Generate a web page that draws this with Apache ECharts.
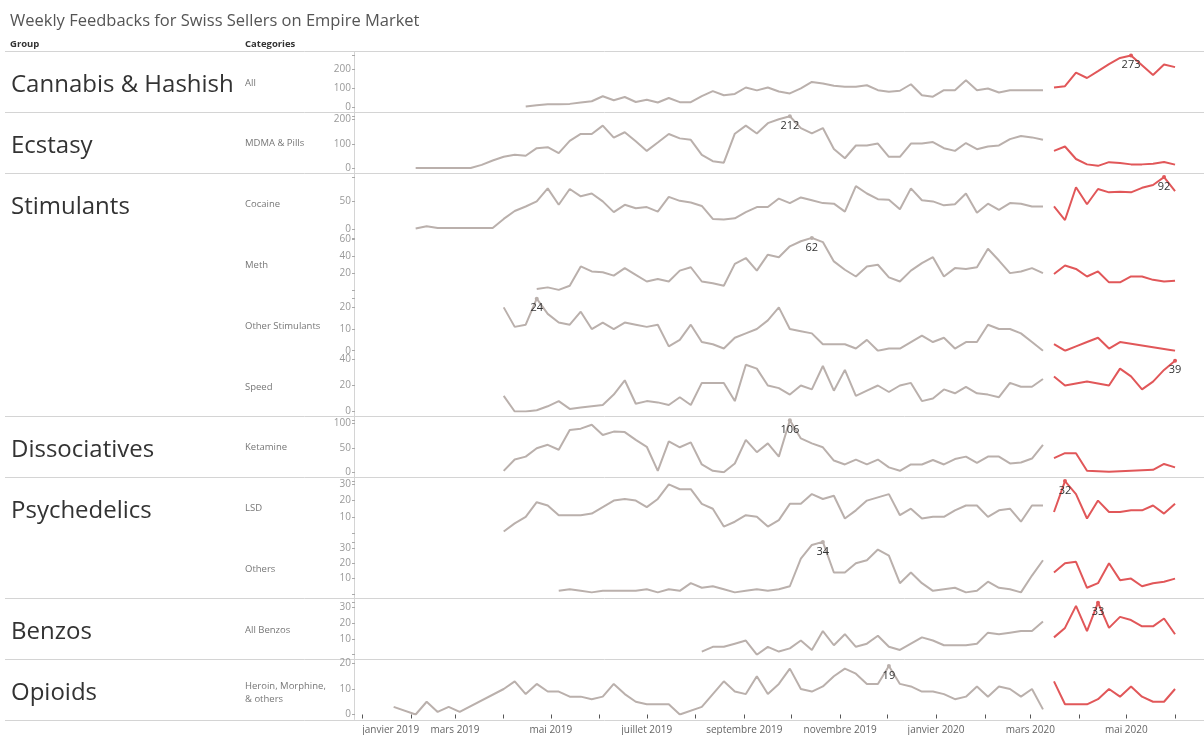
<!DOCTYPE html>
<html>
<head>
<meta charset="utf-8">
<script src="https://cdn.jsdelivr.net/npm/echarts@6/dist/echarts.min.js"></script>
<style>
  html, body { margin: 0; padding: 0; background: #fff; }
  #chart { width: 1204px; height: 735px; }
</style>
</head>
<body>
<div id="chart"></div>
<script>
// weekly points: gray = 60 weeks from 21 Jan 2019, red = 12 weeks from 16 Mar 2020
const grayStart = [2019, 0, 21]
const redStart = [2020, 2, 16]

const groups = ['Cannabis & Hashish', 'Ecstasy', 'Stimulants', 'Dissociatives', 'Psychedelics', 'Benzos', 'Opioids']
const groupFirstRow = [0, 1, 2, 6, 7, 9, 10]
const categories = ['All', 'MDMA & Pills', 'Cocaine', 'Meth', 'Other Stimulants', 'Speed', 'Ketamine', 'LSD', 'Others', 'All Benzos', 'Heroin, Morphine,\n& others']

const xTickLabels = ['janvier 2019', 'mars 2019', 'mai 2019', 'juillet 2019', 'septembre 2019', 'novembre 2019', 'janvier 2020', 'mars 2020', 'mai 2020']

const cannabisGray = [null, null, null, null, null, null, null, null, null, null, null, null,
  5, 12, 17, 17, 19, 26, 33, 59, 38, 55, 29, 41, 26, 50, 28, 28, 60, 86, 64, 71,
  105, 90, 105, 84, 74, 100, 134, 126, 114, 109, 109, 117, 91, 83, 88, 122, 64, 57, 91, 91,
  143, 91, 100, 79, 91, 91, 91, 91]
const cannabisRed = [105, 112, 183, 155, 191, 228, 260, 273, null, 171, 226, 212]

const ecstasyGray = [null, null, 1, 1, 1, 1, 1, 1,
  14, 32, 47, 55, 51, 82, 86, 62, 112, 140, 140, 174, 125, 147, 110, 71, 105, 140, 122, 116,
  55, 29, 23, 141, 174, 142, 184, 200, 212, 164, 142, 164, 79, 41,
  93, 93, 101, 47, 47, 101, 101, 107, 82, 71, 103, 78, 89, 93, 119, 132, 126, 116]
const ecstasyRed = [71, 89, 38, 16, 10, 25, 22, 16, 16, 19, 26, 15]

const cocaineGray = [null, null, 1, 5, 2, 2, 2, 2, 2, 2,
  18, 32, 40, 49, 72, 43, 71, 58, 63, 49, 30, 43, 37, 39, 31, 57, 50, 47, 41, 18,
  17, 19, 30, 39, 39, 54, 46, 56, 51, 46, 45, 31,
  76, 63, 53, 52, 35, 72, 51, 49, 42, 44, 63, 29, 45, 34, 46, 45, 40, 40]
const cocaineRed = [40, 16, 74, 44, 71, 65, 66, 65, 73, 78, 92, 67]

const methGray = [null, null, null, null, null, null, null, null, null, null, null, null, null,
  1, 3, 0, 5, 28, 22, 21, 17, 26, 18, 10, 13, 10, 23, 27, 10, 8, 5, 31,
  38, 23, 42, 39, 52, 58, 62, 57, 34, 24, 16, 28, 30, 15, 10, 23, 32, 39, 16, 26,
  25, 27, 49, 35, 20, 22, 26, 20]
const methRed = [19, 29, 25, 16, 22, 9, 9, 16, 16, 12, 10, 11]

const otherStimGray = [null, null, null, null, null, null, null, null, null, null,
  20, 11, 12, 24, 17, 13, 12, 18, 10, 13, 10, 13, 12, 11, 12, 2, 5, 12, 4, 3,
  1, 6, 8, 10, 14, 20, 10, 9, 8, 3, 3, 3, 1, 5, 0, 1, 1, 4, 7, 4, 6, 1,
  4, 4, 12, 10, 10, 8, 4, 0]
const otherStimRed = [3, 0, 2, 4, 6, 1, 4, null, null, null, null, 0]

const speedGray = [null, null, null, null, null, null, null, null, null, null,
  12, 0, 0, 1, 4, 8, 2, 3, 4, 5, 13, 24, 6, 8, 7, 5, 11, 5, 22, 22,
  22, 8, 36, 33, 20, 18, 13, 20, 17, 35, 16, 32, 12, 16, 20, 15, 20, 22, 8, 10, 17, 14,
  19, 14, 13, 11, 22, 19, 19, 25]
const speedRed = [27, 20, null, 23, null, 20, 33, 27, 17, 23, 32, 39]

const ketamineGray = [null, null, null, null, null, null, null, null, null, null,
  3, 26, 32, 49, 56, 46, 86, 89, 97, 76, 83, 82, 66, 52, 3, 63, 51, 61, 16, 3,
  0, 18, 66, 41, 59, 32, 106, 69, 59, 51, 24, 16, 26, 16, 26, 10, 3, 16, 16, 25, 16, 27,
  32, 19, 32, 32, 18, 20, 28, 56]
const ketamineRed = [29, 39, 39, 3, 2, 1, 2, 3, 4, 5, 17, 10]

const lsdGray = [null, null, null, null, null, null, null, null, null, null,
  1, 6, 10, 19, 17, 11, 11, 11, 12, 16, 20, 21, 20, 16, 21, 30, 27, 27, 18, 15,
  4, 7, 11, 10, 4, 8, 18, 18, 24, 21, 23, 9, 14, 20, 22, 24, 11, 15, 9, 10, 10, 14,
  17, 17, 10, 14, 15, 7, 17, 17]
const lsdRed = [13, 32, 24, 9, 20, 13, 13, 14, 14, 17, 12, 18]

const othersGray = [null, null, null, null, null, null, null, null, null, null, null, null, null, null, null,
  2, 3, 2, 1, 2, 2, 2, 2, 3, 1, 3, 2, 7, 4, 5,
  3, 1, 2, 3, 2, 3, 5, 23, 32, 34, 14, 14, 20, 22, 29, 25, 7, 14, 7, 2, 3, 4,
  1, 2, 8, 4, 3, 1, 12, 22]
const othersRed = [14, 20, 21, 4, 7, 20, 9, 10, 5, 7, 8, 10]

const benzosGray = [null, null, null, null, null, null, null, null, null, null,
  null, null, null, null, null, null, null, null, null, null,
  null, null, null, null, null, null, null, null,
  2, 5, 5, 7, 9, 0, 5, 2, 4, 9, 3, 15, 6, 13, 5, 7, 12, 5, 3, 7, 11, 9, 6, 6,
  6, 7, 14, 13, 14, 15, 15, 21]
const benzosRed = [11, 17, 31, 15, 33, 17, 24, 22, 18, 18, 23, 13]

const opioidsGray = [3, null, 0, 5, 1, 3, 1, null, null, null,
  10, 13, 8, 12, 9, 9, 7, 7, 6, 7, 12, 8, 5, 4, 4, 4, 0, null, 3, null,
  13, 9, 8, 15, 8, 12, 18, 10, 9, 11, 15, 18, 16, 12, 12, 19, 12, 11, 9, 9, 8, 6,
  7, 11, 7, 11, 10, 7, 10, 2]
const opioidsRed = [13, 4, 4, 4, 6, 10, 7, 11, 7, 5, 5, 10]

const grayRows = [cannabisGray, ecstasyGray, cocaineGray, methGray, otherStimGray, speedGray, ketamineGray, lsdGray, othersGray, benzosGray, opioidsGray]
const redRows = [cannabisRed, ecstasyRed, cocaineRed, methRed, otherStimRed, speedRed, ketamineRed, lsdRed, othersRed, benzosRed, opioidsRed]
const yMaxes = [273, 212, 92, 62, 24, 40, 106, 32, 34, 33, 20]
const yIntervals = [100, 100, 50, 20, 10, 20, 50, 10, 10, 10, 10]
const yHideZero = [false, false, false, true, false, false, false, true, true, true, false]

// layout
const TOP = 51
const ROW_H = 60.8
const LEFT = 355
const GRAY = '#bab0ac'
const RED = '#e15759'
const xMin = new Date(2018, 11, 27, 10).getTime()
const xMax = new Date(2020, 5, 19, 10).getTime()

function weekTime(start, i) {
  return new Date(start[0], start[1], start[2] + 7 * i).getTime()
}
function toPoints(arr, start) {
  const out = []
  arr.forEach((v, i) => {
    if (v !== null) out.push([weekTime(start, i), v])
  })
  return out
}

const monthTicks = []
for (let k = 0; k < 18; k++) monthTicks.push(new Date(2019, k, 1).getTime())
const labelTicks = monthTicks.filter((t, k) => k % 2 === 0)

const chart = echarts.init(document.getElementById('chart'), null, { renderer: 'canvas' })

const grids = []
const xAxes = []
const yAxes = []
const series = []
const graphics = []

categories.forEach((cat, r) => {
  const rowTop = TOP + ROW_H * r
  grids.push({ left: LEFT, right: 0, top: rowTop + 4.5, height: 52 })
  const last = r === categories.length - 1
  xAxes.push({
    type: 'value', gridIndex: r, min: xMin, max: xMax,
    show: last,
    offset: last ? 4.5 : 0,
    axisLine: { show: false },
    splitLine: { show: false },
    axisTick: { show: last, customValues: monthTicks, length: 4, lineStyle: { color: '#555' } },
    axisLabel: {
      show: last, customValues: labelTicks, fontSize: 10, color: '#666', margin: 6,
      fontFamily: 'Open Sans', alignMinLabel: 'left',
      formatter: v => xTickLabels[labelTicks.indexOf(v)] || ''
    }
  })
  const itv = yIntervals[r]
  yAxes.push({
    type: 'value', gridIndex: r, min: 0, max: yMaxes[r], interval: itv,
    axisLine: { show: false },
    splitLine: { show: false },
    axisTick: { show: true, length: 3, lineStyle: { color: '#aaa' } },
    axisLabel: {
      fontSize: 10, color: '#999', margin: 4, fontFamily: 'Open Sans',
      formatter: v => (v % itv !== 0 || (yHideZero[r] && v === 0)) ? '' : String(v)
    }
  })

  const gray = toPoints(grayRows[r], grayStart)
  const red = toPoints(redRows[r], redStart)
  // peak of the row gets its value label
  let peak = null
  gray.concat(red).forEach(p => { if (!peak || p[1] > peak[1]) peak = p })
  const isRed = red.indexOf(peak) >= 0
  const mark = {
    symbol: 'circle', symbolSize: 4, silent: true,
    itemStyle: { color: isRed ? RED : GRAY },
    label: { show: true, position: 'bottom', distance: 2, fontSize: 11, color: '#333', fontFamily: 'Open Sans', formatter: '{c}' },
    data: [{ coord: peak, value: peak[1] }]
  }
  series.push({
    type: 'line', xAxisIndex: r, yAxisIndex: r, data: gray, showSymbol: false,
    lineStyle: { color: GRAY, width: 2 }, itemStyle: { color: GRAY },
    markPoint: isRed ? undefined : mark
  })
  series.push({
    type: 'line', xAxisIndex: r, yAxisIndex: r, data: red, showSymbol: false,
    lineStyle: { color: RED, width: 2 }, itemStyle: { color: RED },
    markPoint: isRed ? mark : undefined
  })

  graphics.push({
    type: 'text', left: 245, top: rowTop + ROW_H / 2 - (cat.indexOf('\n') >= 0 ? 10 : 5),
    style: { text: cat, fill: '#777', fontSize: 9.5, lineHeight: 13, fontFamily: 'Open Sans' }
  })
})

groups.forEach((g, k) => {
  const rowTop = TOP + ROW_H * groupFirstRow[k]
  graphics.push({
    type: 'text', left: 11, top: rowTop + ROW_H / 2 - 8,
    style: { text: g, fill: '#333', fontSize: 24, fontFamily: 'Open Sans' }
  })
})

// separators between groups
const sepRows = [0, 1, 2, 6, 7, 9, 10, 11]
sepRows.forEach(k => {
  const y = Math.round(TOP + ROW_H * k) + 0.5
  graphics.push({ type: 'line', shape: { x1: 5, y1: y, x2: 1204, y2: y }, style: { stroke: '#d4d4d4', lineWidth: 1 } })
})
graphics.push({ type: 'line', shape: { x1: 354.5, y1: TOP, x2: 354.5, y2: TOP + ROW_H * 11 }, style: { stroke: '#d4d4d4', lineWidth: 1 } })

graphics.push({
  type: 'text', left: 10, top: 13,
  style: { text: 'Weekly Feedbacks for Swiss Sellers on Empire Market', fill: '#555', fontSize: 16.5, fontFamily: 'Open Sans' }
})
graphics.push({ type: 'text', left: 10, top: 39, style: { text: 'Group', fill: '#333', fontSize: 9.5, fontWeight: 'bold', fontFamily: 'Open Sans' } })
graphics.push({ type: 'text', left: 245, top: 39, style: { text: 'Categories', fill: '#333', fontSize: 9.5, fontWeight: 'bold', fontFamily: 'Open Sans' } })

chart.setOption({
  animation: false,
  grid: grids,
  xAxis: xAxes,
  yAxis: yAxes,
  series: series,
  graphic: graphics
})
</script>
</body>
</html>
